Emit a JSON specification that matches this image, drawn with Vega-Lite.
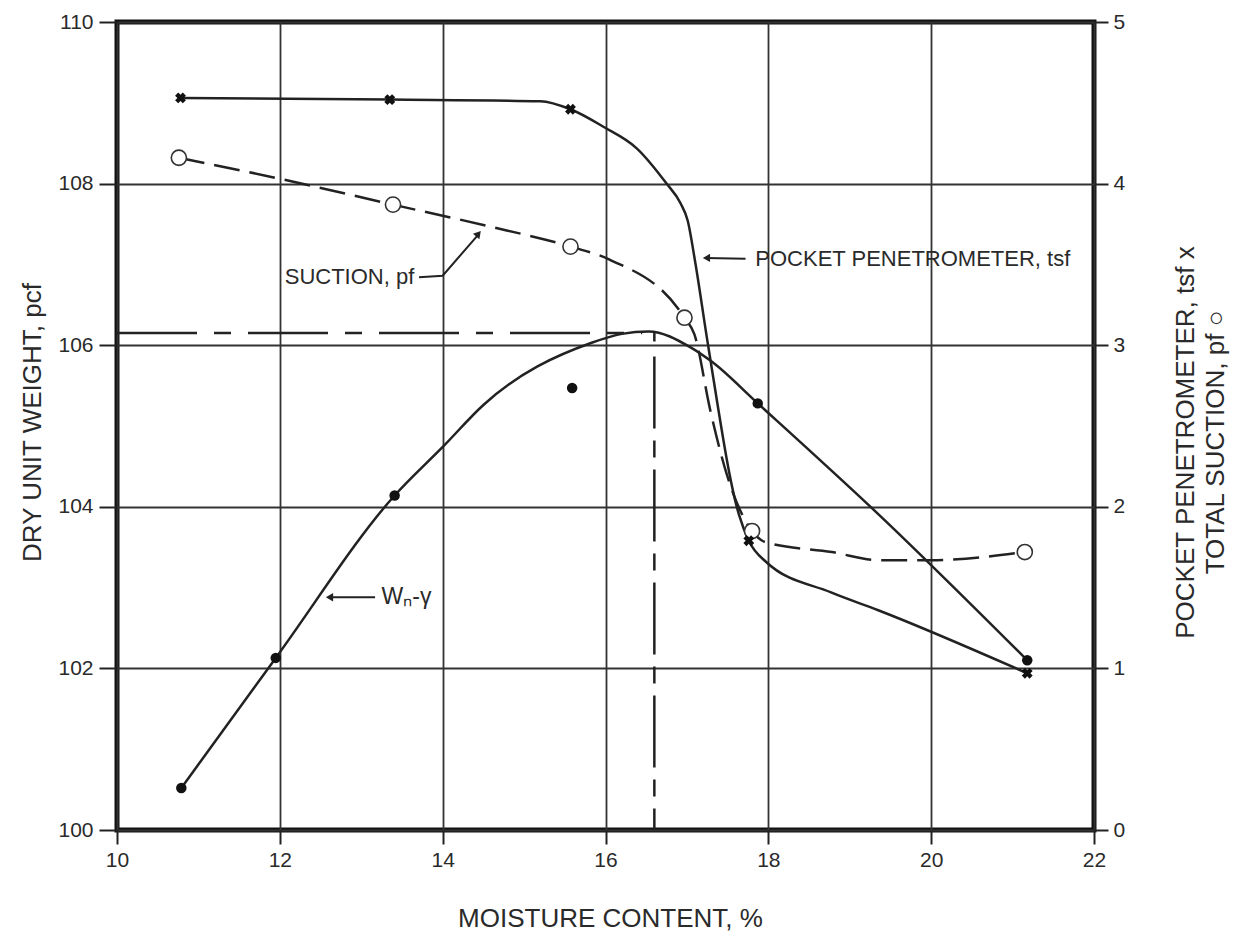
{
  "$schema": "https://vega.github.io/schema/vega-lite/v6.json",
  "width": 977,
  "height": 808,
  "autosize": "none",
  "padding": {"left": 117, "top": 22, "right": 148, "bottom": 110},
  "background": "white",
  "datasets": {
    "wcurve": [
      {"x": 10.79, "y": 100.52}, {"x": 11.95, "y": 102.13}, {"x": 13.41, "y": 104.14},
      {"x": 14.01, "y": 104.75}, {"x": 14.5, "y": 105.26}, {"x": 15.83, "y": 106.03},
      {"x": 16.2, "y": 106.14}, {"x": 16.53, "y": 106.17}, {"x": 17.05, "y": 105.97},
      {"x": 17.3, "y": 105.8}, {"x": 17.87, "y": 105.28}, {"x": 19.36, "y": 103.9},
      {"x": 21.18, "y": 102.1}
    ],
    "wdots": [
      {"x": 10.79, "y": 100.52}, {"x": 11.95, "y": 102.13}, {"x": 13.41, "y": 104.14},
      {"x": 15.59, "y": 105.47}, {"x": 17.87, "y": 105.28}, {"x": 21.18, "y": 102.1}
    ],
    "opth": [{"x": 10.0, "x2": 16.45, "y": 106.15}],
    "optv": [{"x": 16.6, "y": 106.17, "y2": 100}],
    "wlead": [{"x": 12.6, "y": 102.88}, {"x": 13.17, "y": 102.88}],
    "whead": [{"x": 12.61, "y": 102.88}],
    "wtext": [{"x": 13.25, "y": 102.88, "t": "Wₙ-γ"}],
    "pcurve": [
      {"x": 10.78, "y": 4.53}, {"x": 13.35, "y": 4.52}, {"x": 15.2, "y": 4.51},
      {"x": 15.57, "y": 4.46}, {"x": 15.98, "y": 4.35}, {"x": 16.38, "y": 4.22},
      {"x": 16.75, "y": 4.0}, {"x": 16.92, "y": 3.88}, {"x": 17.01, "y": 3.77},
      {"x": 17.1, "y": 3.52}, {"x": 17.26, "y": 3.0},
      {"x": 17.64, "y": 1.95}, {"x": 17.76, "y": 1.79}, {"x": 17.97, "y": 1.66},
      {"x": 18.77, "y": 1.47}, {"x": 19.35, "y": 1.36}, {"x": 21.18, "y": 0.97}
    ],
    "pmarks": [
      {"x": 10.78, "y": 4.53}, {"x": 13.35, "y": 4.52}, {"x": 15.57, "y": 4.46},
      {"x": 17.76, "y": 1.79}, {"x": 21.18, "y": 0.97}
    ],
    "scurve": [
      {"x": 10.76, "y": 4.16}, {"x": 12.0, "y": 4.03}, {"x": 13.39, "y": 3.87},
      {"x": 14.53, "y": 3.74}, {"x": 15.57, "y": 3.61}, {"x": 16.05, "y": 3.53},
      {"x": 16.97, "y": 3.17}, {"x": 17.09, "y": 3.07}, {"x": 17.29, "y": 2.59},
      {"x": 17.49, "y": 2.2}, {"x": 17.8, "y": 1.85}, {"x": 17.97, "y": 1.78},
      {"x": 18.78, "y": 1.72}, {"x": 19.35, "y": 1.67}, {"x": 20.0, "y": 1.67},
      {"x": 21.15, "y": 1.72}
    ],
    "smarks": [
      {"x": 10.76, "y": 4.16}, {"x": 13.39, "y": 3.87}, {"x": 15.57, "y": 3.61},
      {"x": 16.97, "y": 3.17}, {"x": 17.8, "y": 1.85}, {"x": 21.15, "y": 1.72}
    ],
    "slead": [{"x": 13.71, "y": 3.42}, {"x": 14.0, "y": 3.43}, {"x": 14.43, "y": 3.68}],
    "shead": [{"x": 14.44, "y": 3.69}],
    "plead": [{"x": 17.23, "y": 3.54}, {"x": 17.72, "y": 3.535}],
    "phead": [{"x": 17.24, "y": 3.54}],
    "rtext": [
      {"x": 12.06, "y": 3.42, "t": "SUCTION, pf"},
      {"x": 17.84, "y": 3.535, "t": "POCKET PENETROMETER, tsf"}
    ]
  },
  "encoding": {
    "x": {
      "field": "x", "type": "quantitative",
      "scale": {"domain": [10, 22], "nice": false, "zero": false},
      "axis": {
        "values": [10, 12, 14, 16, 18, 20, 22],
        "grid": true,
        "tickSize": 14,
        "labelPadding": 5,
        "title": "MOISTURE CONTENT, %",
        "titleX": 493, "titleY": 75,
        "titleBaseline": "top", "titleAlign": "center"
      }
    }
  },
  "layer": [
    {
      "encoding": {
        "y": {
          "field": "y", "type": "quantitative",
          "scale": {"domain": [100, 110], "nice": false, "zero": false},
          "axis": {
            "orient": "left",
            "values": [100, 102, 104, 106, 108, 110],
            "grid": true,
            "tickSize": 18,
            "labelPadding": 6,
            "title": "DRY UNIT WEIGHT, pcf",
            "titleAngle": 270,
            "titleX": -98, "titleY": 400,
            "titleBaseline": "top", "titleAlign": "center"
          }
        }
      },
      "layer": [
        {"data": {"name": "opth"}, "mark": {"type": "rule", "stroke": "#222", "strokeWidth": 2.5, "strokeDash": [80, 17, 17, 17]}, "encoding": {"x2": {"field": "x2"}}},
        {"data": {"name": "optv"}, "mark": {"type": "rule", "stroke": "#222", "strokeWidth": 2.5, "strokeDash": [10, 15, 72, 12, 17, 12, 72, 12, 17, 12, 72, 12, 17, 12, 72, 12, 17, 12, 72, 12, 17, 12, 72, 12, 17, 12]}, "encoding": {"y2": {"field": "y2"}}},
        {"data": {"name": "wcurve"}, "mark": {"type": "line", "interpolate": "monotone", "stroke": "#222", "strokeWidth": 2.5}, "encoding": {}},
        {"data": {"name": "wdots"}, "mark": {"type": "point", "shape": "circle", "filled": true, "color": "#111", "size": 110, "opacity": 1}, "encoding": {}},
        {"data": {"name": "wlead"}, "mark": {"type": "line", "stroke": "#222", "strokeWidth": 2}, "encoding": {}},
        {"data": {"name": "whead"}, "mark": {"type": "point", "shape": "triangle-left", "filled": true, "color": "#222", "size": 70, "opacity": 1}, "encoding": {}},
        {"data": {"name": "wtext"}, "mark": {"type": "text", "align": "left", "baseline": "middle", "font": "Liberation Sans", "fontSize": 23, "color": "#2a2a2a"}, "encoding": {"text": {"field": "t"}}}
      ]
    },
    {
      "encoding": {
        "y": {
          "field": "y", "type": "quantitative",
          "scale": {"domain": [0, 5], "nice": false, "zero": false},
          "axis": {
            "orient": "right",
            "values": [0, 1, 2, 3, 4, 5],
            "grid": false,
            "tickSize": 14,
            "labelPadding": 5,
            "title": ["POCKET PENETROMETER, tsf x", "TOTAL SUCTION, pf ○"],
            "titleAngle": 270,
            "titleX": 78, "titleY": 420,
            "titleBaseline": "top", "titleAlign": "center",
            "titleLineHeight": 30
          }
        }
      },
      "layer": [
        {"data": {"name": "pcurve"}, "mark": {"type": "line", "interpolate": "monotone", "stroke": "#222", "strokeWidth": 2.5}, "encoding": {}},
        {"data": {"name": "scurve"}, "mark": {"type": "line", "interpolate": "monotone", "stroke": "#222", "strokeWidth": 2.5, "strokeDash": [26, 10]}, "encoding": {}},
        {"data": {"name": "smarks"}, "mark": {"type": "point", "shape": "circle", "filled": true, "fill": "white", "stroke": "#333", "strokeWidth": 1.6, "size": 230, "opacity": 1}, "encoding": {}},
        {"data": {"name": "pmarks"}, "mark": {"type": "point", "shape": "cross", "angle": 45, "filled": true, "color": "#111", "size": 120, "opacity": 1}, "encoding": {}},
        {"data": {"name": "slead"}, "mark": {"type": "line", "stroke": "#222", "strokeWidth": 2}, "encoding": {}},
        {"data": {"name": "shead"}, "mark": {"type": "point", "shape": "triangle-up", "angle": 40, "filled": true, "color": "#222", "size": 70, "opacity": 1}, "encoding": {}},
        {"data": {"name": "plead"}, "mark": {"type": "line", "stroke": "#222", "strokeWidth": 2}, "encoding": {}},
        {"data": {"name": "phead"}, "mark": {"type": "point", "shape": "triangle-left", "filled": true, "color": "#222", "size": 70, "opacity": 1}, "encoding": {}},
        {"data": {"name": "rtext"}, "mark": {"type": "text", "align": "left", "baseline": "middle", "font": "Liberation Sans", "fontSize": 22, "color": "#2a2a2a"}, "encoding": {"text": {"field": "t"}}}
      ]
    }
  ],
  "resolve": {"scale": {"y": "independent"}},
  "config": {
    "view": {"stroke": "#111", "strokeWidth": 5},
    "axis": {
      "domain": false,
      "labelFont": "Liberation Sans",
      "labelFontSize": 21,
      "labelColor": "#2a2a2a",
      "tickColor": "#222",
      "tickWidth": 2,
      "gridColor": "#333",
      "gridWidth": 1.8,
      "gridOpacity": 1,
      "titleFont": "Liberation Sans",
      "titleFontSize": 26,
      "titleFontWeight": "normal",
      "titleColor": "#2a2a2a",
      "labelFlush": false,
      "labelOverlap": false
    }
  }
}
